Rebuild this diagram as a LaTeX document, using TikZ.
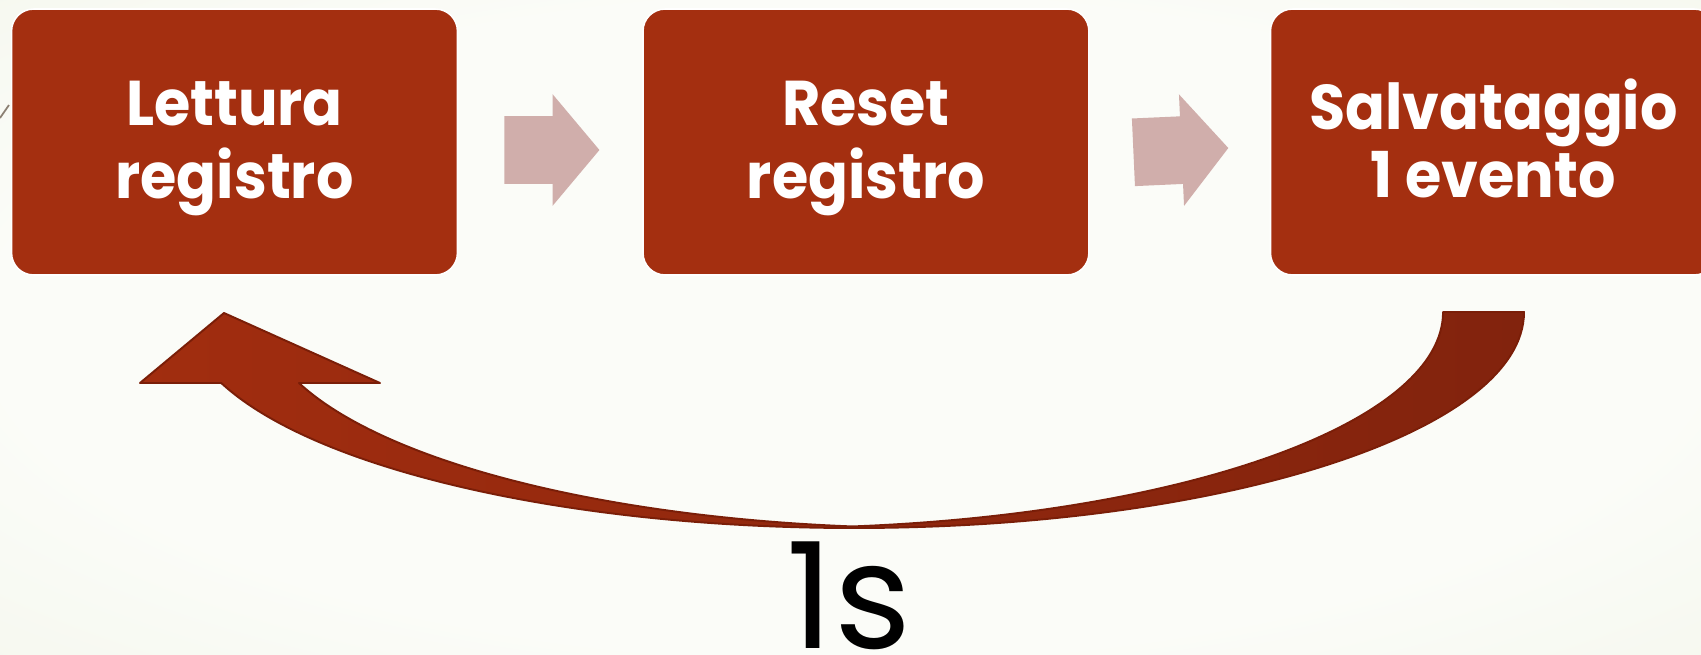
\documentclass[tikz,border=0pt]{standalone}
\usepackage{fontspec}
\setmainfont{Poppins}
\newfontfamily\gothic{Poppins}
\usetikzlibrary{positioning}
\usetikzlibrary{calc}
\usetikzlibrary{shapes.arrows}
\definecolor{boxred}{RGB}{164,47,16}
\definecolor{pinkarrow}{RGB}{208,174,171}
\definecolor{loopred}{RGB}{161,45,15}
\definecolor{loopdark}{RGB}{130,35,13}
\definecolor{loopline}{RGB}{122,30,8}
\definecolor{bgin}{RGB}{251,252,248}
\definecolor{bgout}{RGB}{229,235,210}
\pgfdeclareradialshading{slidebg}{\pgfpoint{0bp}{0bp}}{color(0bp)=(bgin); color(25bp)=(bgin); color(50bp)=(bgin!50!bgout); color(72bp)=(bgout)}
\tikzset{
  stepbox/.style={rectangle, rounded corners=0.44cm, fill=boxred, draw=white, line width=0.9pt,
    minimum width=8.92cm, minimum height=5.32cm},
  steptext/.style={text=white, font=\fontsize{36}{39}\selectfont\bfseries, align=center, xscale=0.93},
  blockarrow/.style={single arrow, fill=pinkarrow, minimum height=1.9cm, minimum width=2.22cm,
    single arrow head extend=0.44cm, single arrow tip angle=100, inner xsep=0pt, inner ysep=0.67cm}
}

\begin{document}
\begin{tikzpicture}[x=0.02cm, y=0.02cm]
    % slide background
    \useasboundingbox (0,0) rectangle (1701,654);
    \clip (0,0) rectangle (1701,654);
    \shade[shading=slidebg] (0,0) rectangle (1701,654);
    \draw[color=gray!80!brown, line width=1pt] (0,536) -- (9,549);

    % the three steps
    \node[stepbox] (lettura) at (234.5,512) {};
    \node[stepbox, right=3.68cm of lettura] (reset) {};
    \node[stepbox, right=3.6cm of reset] (salva) {};
    \node[steptext, yshift=-0.132cm] (letturatxt) at (lettura.center) {Lettura\strut\\registro\strut};
    \node[steptext, yshift=-0.132cm] (resettxt) at (reset.center) {Reset\strut\\registro\strut};
    \node[steptext, yshift=-0.132cm] (salvatxt) at (salva.center) {Salvataggio\strut\\1 evento\strut};

    % block arrows between the steps
    \node[blockarrow] (freccia1) at ($(lettura.east)!0.5!(reset.west)+(-12.5,-8)$) {};
    \node[blockarrow, rotate=2.6] (freccia2) at ($(reset.east)!0.5!(salva.west)+(-13,-8.8)$) {};

    % loop back every second
    \coordinate (coda) at (1524,342);
    \coordinate (punta) at (224,341);
    \draw[left color=loopred, right color=loopdark, draw=loopline, line width=1.1pt, line join=round]
        (coda) arc[start angle=0, end angle=-160.8, x radius=670, y radius=216]
        -- (140,271) -- (punta) -- (380,271) -- (299,271)
        arc[start angle=-160.8, end angle=-96.8, x radius=670, y radius=216]
        arc[start angle=-83.2, end angle=0, x radius=670, y radius=216]
        -- cycle;

    \node[font=\gothic\fontsize{84}{90}\selectfont, anchor=base, inner sep=0pt] (periodo) at (849,6) {1s};
\end{tikzpicture}
\end{document}
